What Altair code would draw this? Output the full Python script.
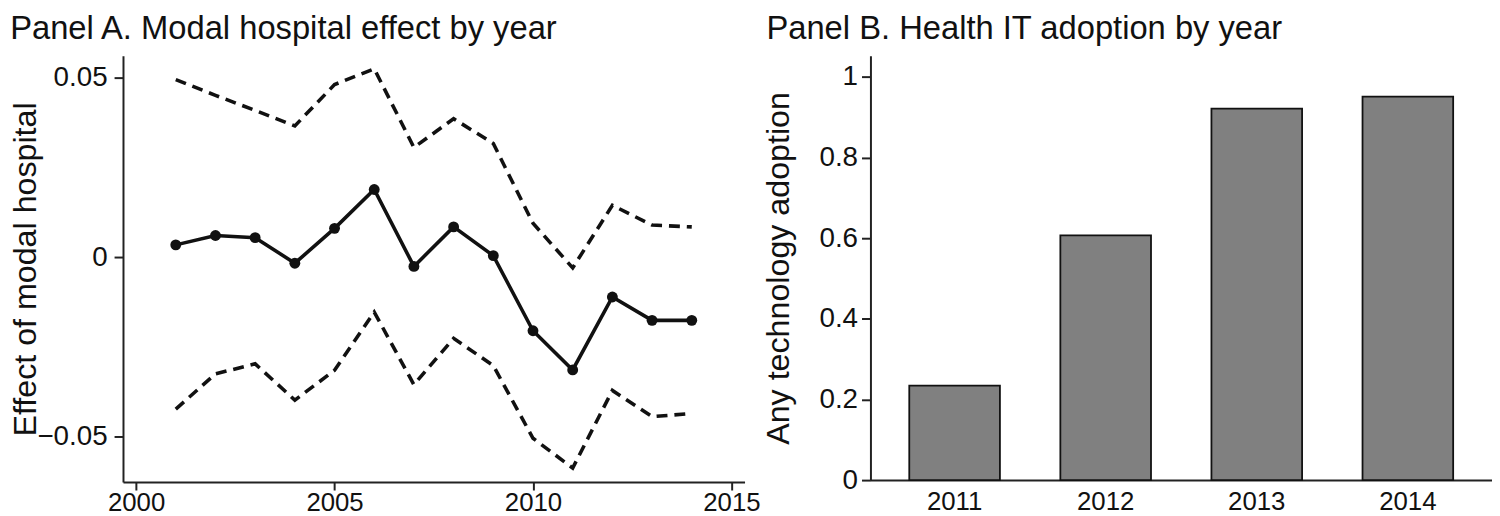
import altair as alt
import pandas as pd

# ---- Panel A data: modal hospital effect by year ----
years = [2001, 2002, 2003, 2004, 2005, 2006, 2007, 2008, 2009, 2010, 2011, 2012, 2013, 2014]
effect = [0.0034, 0.0060, 0.0054, -0.0017, 0.0080, 0.0188, -0.0026, 0.0084, 0.0004,
          -0.0205, -0.0314, -0.0111, -0.0176, -0.0176]
upper = [0.0494, 0.0450, 0.0408, 0.0365, 0.0480, 0.0524, 0.0305, 0.0385, 0.0316,
         0.0094, -0.0030, 0.0144, 0.0089, 0.0084]
lower = [-0.0423, -0.0325, -0.0297, -0.0398, -0.0315, -0.0153, -0.0355, -0.0226, -0.0302,
         -0.0504, -0.0587, -0.0371, -0.0444, -0.0435]
x_ticks_a = [2000, 2005, 2010, 2015]
y_ticks_a = [-0.05, 0, 0.05]

# ---- Panel B data: health IT adoption by year ----
adopt_years = ["2011", "2012", "2013", "2014"]
adopt = [0.234, 0.607, 0.921, 0.951]
y_ticks_b = [0, 0.2, 0.4, 0.6, 0.8, 1]

FONT = "Liberation Sans, Arial, Helvetica, sans-serif"
INK = "#111111"
LBL = 28
XLBL = 26
TTL = 32.5
HEAD = 33

dfA = pd.DataFrame({"year": years, "effect": effect, "upper": upper, "lower": lower})
dfB = pd.DataFrame({"year": adopt_years, "adopt": adopt})

xA = alt.X(
    "year:Q",
    scale=alt.Scale(domain=[1999.67, 2015.33], nice=False, zero=False),
    axis=alt.Axis(values=x_ticks_a, format="d", title=None, tickSize=8,
                  labelPadding=0, labelFontSize=XLBL, labelFlush=False, grid=False),
)
yaxisA = alt.Axis(values=y_ticks_a, format=".2~f", title="Effect of modal hospital",
                  tickSize=9, labelPadding=7, titlePadding=-6, grid=False)
yscaleA = alt.Scale(domain=[-0.0626, 0.056], nice=False, zero=False)

baseA = alt.Chart(dfA)
band = baseA.transform_fold(["upper", "lower"], as_=["bound", "value"]).mark_line(
    strokeDash=[11, 7], strokeWidth=3.6, color=INK
).encode(
    x=xA,
    y=alt.Y("value:Q", scale=yscaleA, axis=yaxisA, title="Effect of modal hospital"),
    detail="bound:N",
)
line = baseA.mark_line(strokeWidth=3.6, color=INK).encode(
    x=xA,
    y=alt.Y("effect:Q", scale=yscaleA, axis=yaxisA, title="Effect of modal hospital"),
)
pts = baseA.mark_circle(size=120, color=INK, opacity=1).encode(
    x=xA,
    y=alt.Y("effect:Q", scale=yscaleA, axis=yaxisA, title="Effect of modal hospital"),
)
panelA = alt.layer(band, line, pts).properties(
    width=627, height=430,
    title=alt.TitleParams("Panel A. Modal hospital effect by year", anchor="start",
                          fontSize=HEAD, font=FONT, fontWeight="normal", color=INK, offset=10),
)

panelB = alt.Chart(dfB).mark_bar(color="#808080", stroke=INK, strokeWidth=1.8).encode(
    x=alt.X("year:O", sort=adopt_years,
            scale=alt.Scale(paddingInner=0.4, paddingOuter=0.257),
            axis=alt.Axis(title=None, labelAngle=0, ticks=False, tickSize=0,
                          labelPadding=9, labelFontSize=XLBL, grid=False)),
    y=alt.Y("adopt:Q", scale=alt.Scale(domain=[0, 1.052], nice=False),
            axis=alt.Axis(values=y_ticks_b, format="~g", title="Any technology adoption",
                          tickSize=9, labelPadding=4, titlePadding=24, grid=False)),
).properties(
    width=627, height=428,
    title=alt.TitleParams("Panel B. Health IT adoption by year", anchor="start",
                          fontSize=HEAD, font=FONT, fontWeight="normal", color=INK,
                          offset=10, dx=4),
)

chart = alt.hconcat(panelA, panelB, spacing=2).properties(
    padding={"left": 2, "top": 3, "right": 0, "bottom": 0}, background="white"
).configure_view(stroke=None).configure_axis(
    domainColor="#222222", domainWidth=2, tickColor="#222222", tickWidth=2,
    labelFont=FONT, labelFontSize=LBL, labelColor=INK,
    titleFont=FONT, titleFontSize=TTL, titleFontWeight="normal", titleColor=INK,
).configure_concat(spacing=2)

chart.save("out.html", embed_options={"renderer": "svg", "actions": False})
